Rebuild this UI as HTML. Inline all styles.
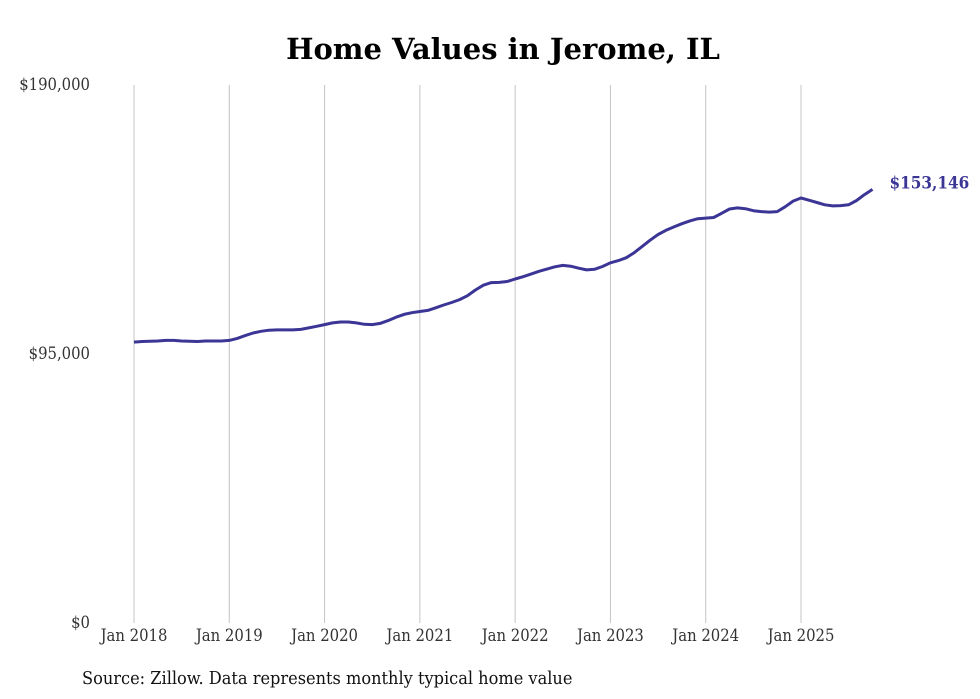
<!DOCTYPE html>
<html><head><meta charset="utf-8"><style>
body{margin:0;background:#fff;}
svg{display:block;font-family:"DejaVu Serif","Liberation Serif",serif;}
.cond{font-family:"DejaVu Serif Condensed","DejaVu Serif","Liberation Serif",serif;font-stretch:condensed;}
</style></head><body>
<svg id="chart" width="980" height="699">
<text x="503" y="59" text-anchor="middle" font-size="29" font-weight="bold" fill="#000">Home Values in Jerome, IL</text>
<g id="grid"></g><g id="yticks"></g><g id="xticks"></g>
<path id="line" fill="none" stroke="#3b3596" stroke-width="3" stroke-linejoin="round"></path>
<text id="endlabel" font-size="17" font-weight="bold" fill="#3b3596" class="cond"></text>
<text x="82" y="684" font-size="18" fill="#111" class="cond">Source: Zillow. Data represents monthly typical home value</text>
</svg>
<script>
const yTicks=[0,95000,190000];
const yTickLabels=["$0","$95,000","$190,000"];
const xTickLabels=["Jan 2018","Jan 2019","Jan 2020","Jan 2021","Jan 2022","Jan 2023","Jan 2024","Jan 2025"];
const values=[
99.2,99.4,99.5,99.6,99.8,99.8,99.6,99.5,99.4,99.6,99.6,99.6,
99.8,100.5,101.5,102.4,103.0,103.4,103.5,103.5,103.5,103.7,104.2,104.8,
105.4,106.0,106.3,106.3,106.0,105.5,105.4,105.8,106.8,108.0,109.0,109.6,
110.0,110.4,111.3,112.3,113.2,114.2,115.6,117.6,119.3,120.2,120.3,120.6,
121.5,122.3,123.2,124.2,125.0,125.8,126.3,126.0,125.3,124.7,124.9,125.9,
127.2,128.0,129.0,130.8,133.0,135.2,137.2,138.7,139.9,141.0,142.0,142.8,
143.0,143.2,144.7,146.2,146.6,146.3,145.6,145.3,145.1,145.3,147.0,149.0,
150.1,149.3,148.5,147.7,147.3,147.4,147.7,149.2,151.3,153.146];
const lastLabel="$153,146";
const NS="http://www.w3.org/2000/svg";
const x=m=>134+m*(801-134)/84;
const y=v=>623-v/190000*538;
function mk(t,a,p){const e=document.createElementNS(NS,t);for(const k in a)e.setAttribute(k,a[k]);p.appendChild(e);return e;}
const grid=document.getElementById('grid'),yt=document.getElementById('yticks'),xt=document.getElementById('xticks');
xTickLabels.forEach((l,i)=>{
 const gl=mk('line',{x1:x(i*12),x2:x(i*12),y1:85,y2:623,stroke:'#c4c4c4','stroke-width':1},grid);
 
 
 const t=mk('text',{x:x(i*12),y:641,'text-anchor':'middle','font-size':16.5,fill:'#333','class':'cond'},xt);
 t.textContent=l;
 
 
});
yTicks.forEach((v,i)=>{
 const t=mk('text',{x:90,y:y(v)+5,'text-anchor':'end','font-size':16.5,fill:'#333','class':'cond'},yt);
 t.textContent=yTickLabels[i];
 
 
});
document.getElementById('line').setAttribute('d',values.map((v,i)=>(i?'L':'M')+x(i).toFixed(1)+','+y(v*1000).toFixed(1)).join(''));
const n=values.length-1,el=document.getElementById('endlabel');
el.setAttribute('x',x(n)+17);el.setAttribute('y',y(values[n]*1000)-1);el.textContent=lastLabel;
</script>
</body></html>
